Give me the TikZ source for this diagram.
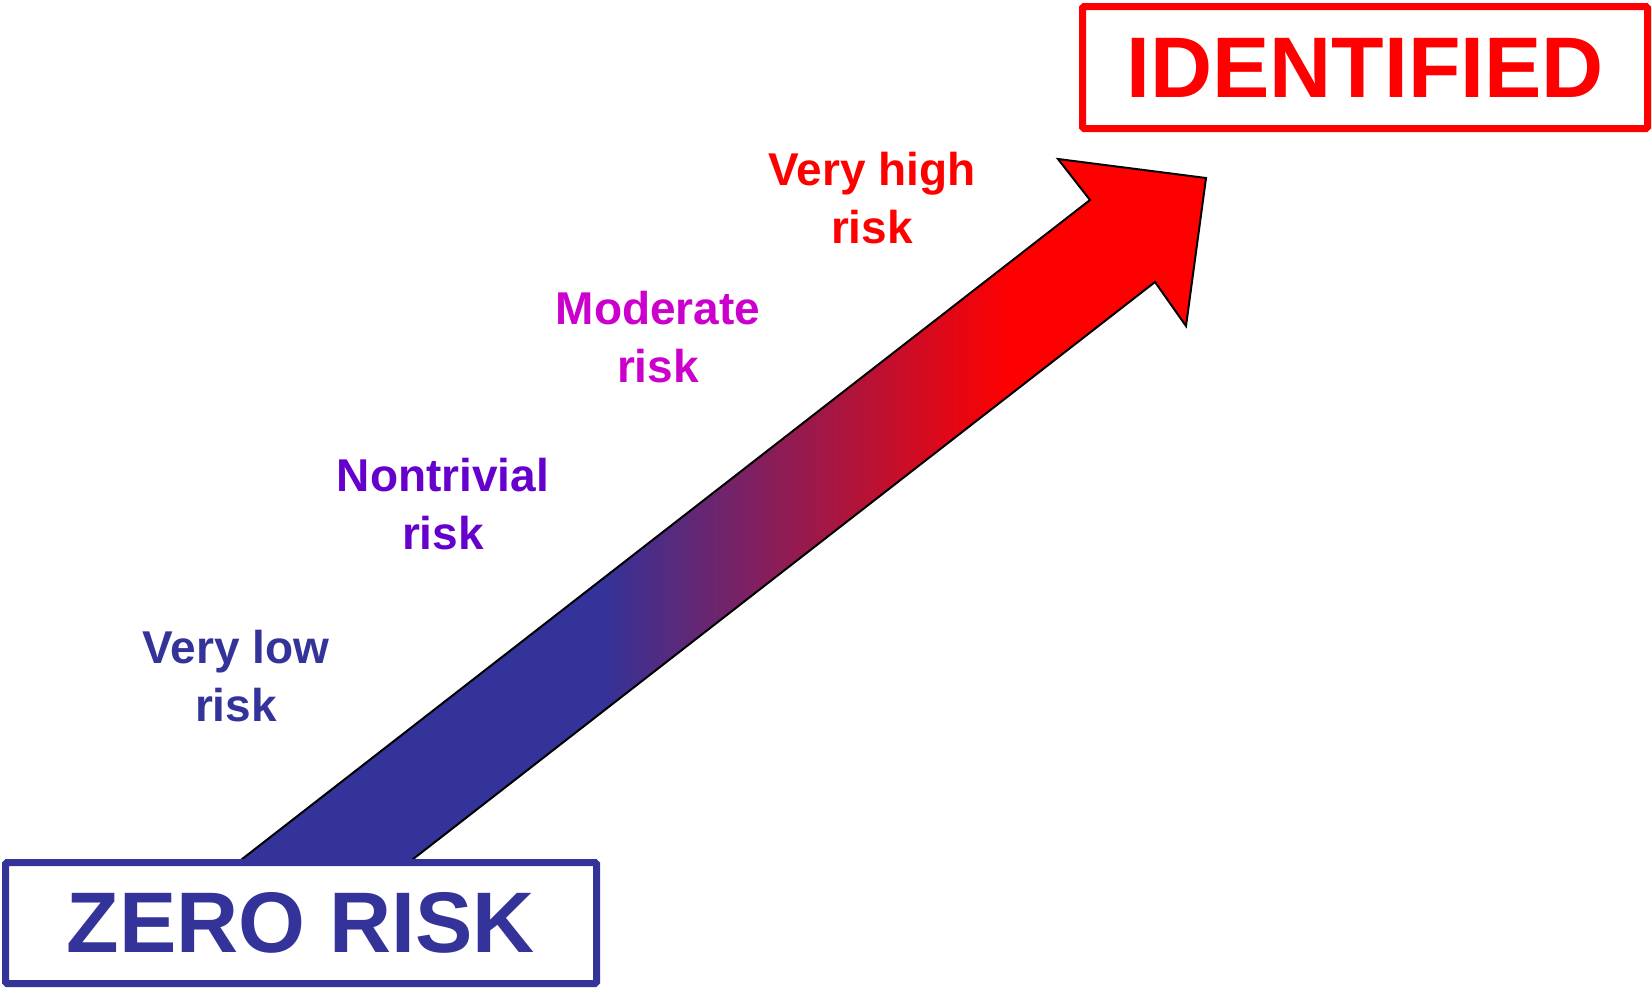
\documentclass[tikz,border=0pt]{standalone}
\usepackage{fontspec}
\setmainfont{Liberation Sans}
\definecolor{zeroblue}{HTML}{333399}
\definecolor{trivviolet}{HTML}{6600CC}
\definecolor{modmagenta}{HTML}{CC00CC}
\definecolor{idred}{HTML}{FF0000}
\begin{document}
\begin{tikzpicture}[x=1pt,y=-1pt,
  framebox/.style={draw, line width=7pt, rounded corners=1.5pt, fill=white,
    inner sep=0pt, font=\bfseries\fontsize{86}{100}\selectfont},
  risklabel/.style={align=center, anchor=base, inner sep=0pt,
    font=\bfseries\fontsize{46}{57.5}\selectfont}]
\useasboundingbox (0,0) rectangle (1652,988);

% outline of the rising arrow
\coordinate (tl)  at (228,870);
\coordinate (nl)  at (1090,200);
\coordinate (bl)  at (1058,159);
\coordinate (tip) at (1206,178);
\coordinate (br)  at (1186,326);
\coordinate (nr)  at (1155,282);
\coordinate (tr)  at (399,870);

% blue-to-red fill of the arrow
\begin{scope}
  \clip (tl) -- (nl) -- (bl) -- (tip) -- (br) -- (nr) -- (tr) -- cycle;
  \fill[zeroblue] (200,100) rectangle (601,900);
  \shade[left color=zeroblue, right color=idred] (600,100) rectangle (1010,900);
  \fill[idred] (1009,100) rectangle (1250,900);
\end{scope}
\draw[line width=2pt] (tl) -- (nl) -- (bl) -- (tip) -- (br) -- (nr) -- (tr) -- cycle;

% end-point boxes
\node[framebox, draw=zeroblue, text=zeroblue, minimum width=591pt, minimum height=121pt]
  (zero) at (301,923) {ZERO RISK};
\node[framebox, draw=idred, text=idred, minimum width=565pt, minimum height=122pt]
  (ident) at (1365,67.5) {IDENTIFIED};

% risk levels (anchored on the baseline of the second line)
\node[risklabel, text=zeroblue]   (low)     at (236,721) {Very low\\risk};
\node[risklabel, text=trivviolet] (nontriv) at (443,549) {Nontrivial\\risk};
\node[risklabel, text=modmagenta] (mod)     at (658,382) {Moderate\\risk};
\node[risklabel, text=idred]      (high)    at (872,243) {Very high\\risk};
\end{tikzpicture}
\end{document}
